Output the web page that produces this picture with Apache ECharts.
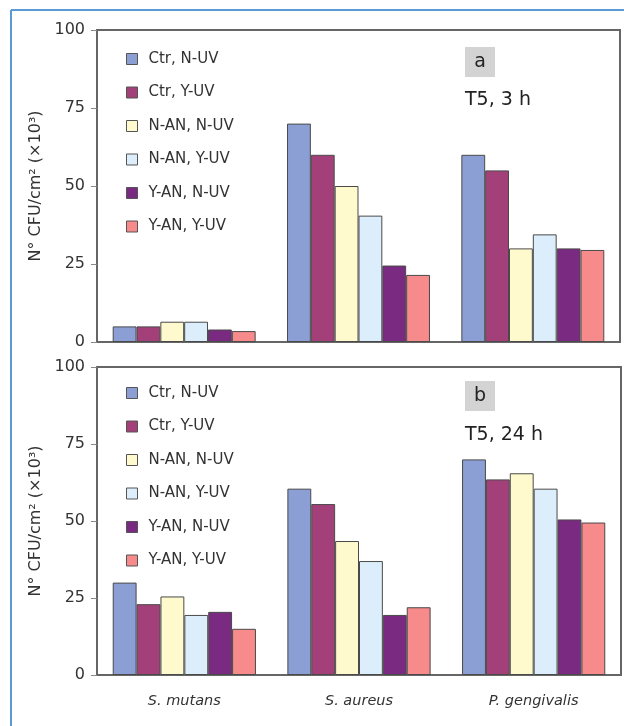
<!DOCTYPE html>
<html>
<head>
<meta charset="utf-8">
<script src="https://cdn.jsdelivr.net/npm/echarts@6/dist/echarts.min.js"></script>
<style>
html,body{margin:0;padding:0;background:#fff;}
#chart{width:624px;height:726px;}
</style>
</head>
<body>
<div id="chart"></div>
<script>
var categories = ['S. mutans', 'S. aureus', 'P. gengivalis'];
var seriesNames = ['Ctr, N-UV', 'Ctr, Y-UV', 'N-AN, N-UV', 'N-AN, Y-UV', 'Y-AN, N-UV', 'Y-AN, Y-UV'];
var colors = ['#8b9fd4', '#a3407a', '#fffacd', '#dceefb', '#7a2a80', '#f78a8a'];
// Panel a: T5, 3 h
var a_CtrNUV = [5, 70, 60];
var a_CtrYUV = [5, 60, 55];
var a_NANNUV = [6.5, 50, 30];
var a_NANYUV = [6.5, 40.5, 34.5];
var a_YANNUV = [4, 24.5, 30];
var a_YANYUV = [3.5, 21.5, 29.5];
// Panel b: T5, 24 h
var b_CtrNUV = [30, 60.5, 70];
var b_CtrYUV = [23, 55.5, 63.5];
var b_NANNUV = [25.5, 43.5, 65.5];
var b_NANYUV = [19.5, 37, 60.5];
var b_YANNUV = [20.5, 19.5, 50.5];
var b_YANYUV = [15, 22, 49.5];
var yTicks = [0, 25, 50, 75, 100];

var panelA = [a_CtrNUV, a_CtrYUV, a_NANNUV, a_NANYUV, a_YANNUV, a_YANYUV];
var panelB = [b_CtrNUV, b_CtrYUV, b_NANNUV, b_NANYUV, b_YANNUV, b_YANYUV];

var FONT = 'DejaVu Sans';
var chart = echarts.init(document.getElementById('chart'));

function yAxis(idx) {
  return {
    type: 'value', gridIndex: idx, min: yTicks[0], max: yTicks[yTicks.length - 1], interval: 25,
    name: 'N° CFU/cm² (×10³)', nameLocation: 'middle', nameGap: 44, nameRotate: 90,
    nameTextStyle: {fontFamily: FONT, fontSize: 16, color: '#333'},
    axisLine: {show: true, lineStyle: {color: '#666', width: 2}},
    axisTick: {show: true, length: 6, lineStyle: {color: '#888', width: 1}},
    axisLabel: {fontFamily: FONT, fontSize: 16, color: '#333', margin: 12},
    splitLine: {show: false}
  };
}
function xAxis(idx, showLabel) {
  return {
    type: 'category', gridIndex: idx, data: categories,
    axisLine: {show: true, lineStyle: {color: '#666', width: 2}},
    axisTick: {show: false},
    axisLabel: {show: showLabel, fontFamily: FONT, fontSize: 14.5, fontStyle: 'italic', color: '#333', margin: 19}
  };
}
function legend(top) {
  return {
    orient: 'vertical', left: 121, top: top, itemWidth: 11, itemHeight: 11, itemGap: 17.5,
    icon: 'rect', data: seriesNames,
    itemStyle: {borderColor: '#555', borderWidth: 1},
    textStyle: {fontFamily: FONT, fontSize: 15, color: '#333', lineHeight: 16, padding: [0, 0, 0, 6]},
    selectedMode: false
  };
}
var series = [];
[panelA, panelB].forEach(function (panel, p) {
  panel.forEach(function (vals, i) {
    series.push({
      type: 'bar', name: seriesNames[i], xAxisIndex: p, yAxisIndex: p, data: vals,
      barGap: '0%', barCategoryGap: '18%',
      itemStyle: {color: colors[i], borderColor: '#4a4a4a', borderWidth: 1},
      emphasis: {disabled: true}
    });
  });
});

chart.setOption({
  animation: false,
  backgroundColor: '#fff',
  grid: [
    {left: 97, top: 30, right: 4, height: 312, show: true, borderColor: '#666', borderWidth: 2, containLabel: false},
    {left: 97, top: 367, right: 3, height: 308, show: true, borderColor: '#666', borderWidth: 2, containLabel: false}
  ],
  xAxis: [xAxis(0, false), xAxis(1, true)],
  yAxis: [yAxis(0), yAxis(1)],
  legend: [legend(46), legend(380)],
  series: series,
  graphic: [
    {type: 'line', shape: {x1: 11, y1: 10, x2: 624, y2: 10}, style: {stroke: '#5b9bd5', lineWidth: 2}},
    {type: 'line', shape: {x1: 11, y1: 10, x2: 11, y2: 726}, style: {stroke: '#5b9bd5', lineWidth: 2}},
    {type: 'rect', shape: {x: 465, y: 47, width: 30, height: 30}, style: {fill: '#d3d3d3'}},
    {type: 'text', x: 480, y: 62, style: {text: 'a', font: '19px "DejaVu Sans"', fill: '#222', align: 'center', verticalAlign: 'middle'}},
    {type: 'text', x: 465, y: 100, style: {text: 'T5, 3 h', font: '19px "DejaVu Sans"', fill: '#222', align: 'left', verticalAlign: 'middle'}},
    {type: 'rect', shape: {x: 465, y: 381, width: 30, height: 30}, style: {fill: '#d3d3d3'}},
    {type: 'text', x: 480, y: 396, style: {text: 'b', font: '19px "DejaVu Sans"', fill: '#222', align: 'center', verticalAlign: 'middle'}},
    {type: 'text', x: 465, y: 435, style: {text: 'T5, 24 h', font: '19px "DejaVu Sans"', fill: '#222', align: 'left', verticalAlign: 'middle'}}
  ]
});
</script>
</body>
</html>
